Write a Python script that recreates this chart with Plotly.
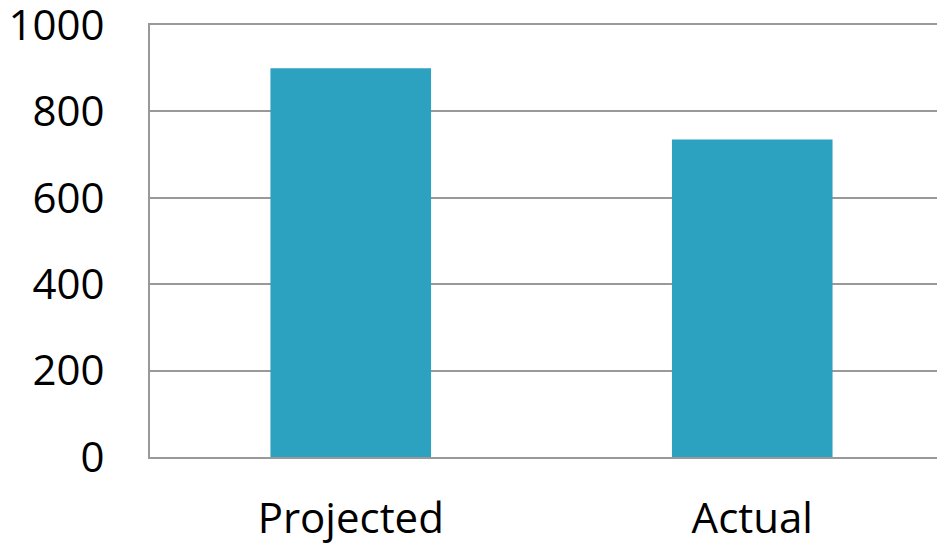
import plotly.graph_objects as go

categories = ["Projected", "Actual"]
values = [900, 735]
y_ticks = [0, 200, 400, 600, 800, 1000]

fig = go.Figure(go.Bar(x=categories, y=values, marker=dict(color="#2CA2C0", line=dict(width=0)), width=0.4))

fig.update_layout(
    width=945, height=544,
    margin=dict(l=142, r=0, t=17, b=95),
    paper_bgcolor="white", plot_bgcolor="white",
    font=dict(family="Open Sans", size=42, color="black"),
    showlegend=False,
)
fig.update_xaxes(range=[-0.5, 1.5], showgrid=False, showline=True, mirror=True, linecolor="#999999", linewidth=2,
                 ticks="", ticklabelstandoff=24, zeroline=False, automargin=False)
fig.update_yaxes(range=[0, 1000], tickvals=y_ticks, showgrid=True, gridcolor="#999999", gridwidth=2,
                 showline=True, linecolor="#999999", linewidth=2, ticks="", ticklabelstandoff=35,
                 zeroline=False, automargin=False, ticklabeloverflow="allow")
fig.write_html("out.html")
